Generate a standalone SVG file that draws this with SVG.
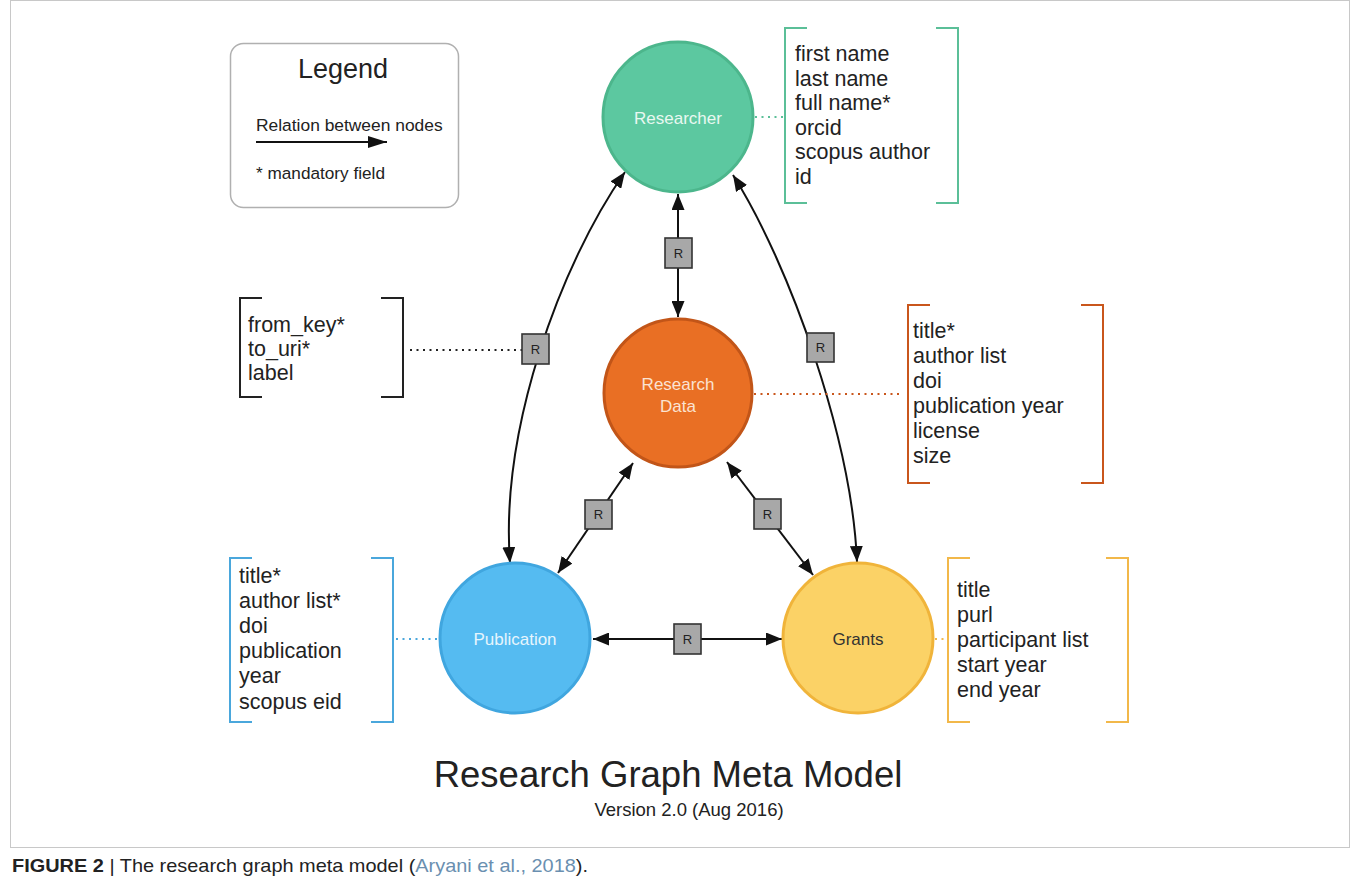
<svg xmlns="http://www.w3.org/2000/svg" width="1358" height="887" viewBox="0 0 1358 887">
<style>
.t{font-family:"Liberation Sans",Arial,sans-serif;fill:#222}
.fld{font-size:21.5px}
.nl{font-size:17px;text-anchor:middle}
.br{fill:none;stroke-width:2}
.dot{fill:none;stroke-width:2;stroke-dasharray:2 4.5}
.con{fill:none;stroke:#111;stroke-width:2}
.rb{fill:#a8a8a8;stroke:#333;stroke-width:1.6}
.rt{font-family:"Liberation Sans",Arial,sans-serif;font-size:13px;fill:#222;text-anchor:middle}
</style>
<defs>
<marker id="ah" markerUnits="userSpaceOnUse" markerWidth="16" markerHeight="13" refX="16" refY="6.5" orient="auto-start-reverse">
<path d="M0,0 L16,6.5 L0,13 z" fill="#111"/>
</marker>
<marker id="lah" markerUnits="userSpaceOnUse" markerWidth="19" markerHeight="12" refX="19" refY="6" orient="auto">
<path d="M0,0 L19,6 L0,12 z" fill="#111"/>
</marker>
</defs>
<rect x="10.5" y="0.5" width="1339" height="847" fill="#fff" stroke="#c8c8c8" stroke-width="1"/>

<g id="legend">
<rect x="230.5" y="43.5" width="228" height="164" rx="13" fill="#fff" stroke="#b0b0b0" stroke-width="1.5"/>
<text class="t" x="343" y="78" font-size="27" text-anchor="middle">Legend</text>
<text class="t" x="256" y="131" font-size="17.4">Relation between nodes</text>
<line x1="256" y1="142" x2="387" y2="142" stroke="#111" stroke-width="2" marker-end="url(#lah)"/>
<text class="t" x="256" y="179" font-size="17.2">* mandatory field</text>
</g>

<g id="connectors">
<line class="con" x1="678" y1="194" x2="678" y2="317" marker-start="url(#ah)" marker-end="url(#ah)"/>
<path class="con" d="M510,563 C500,430 560,265 625,172" marker-start="url(#ah)" marker-end="url(#ah)"/>
<path class="con" d="M857,562 C852,440 790,265 733,175" marker-start="url(#ah)" marker-end="url(#ah)"/>
<line class="con" x1="633" y1="463" x2="558" y2="573" marker-start="url(#ah)" marker-end="url(#ah)"/>
<line class="con" x1="727" y1="462" x2="813" y2="575" marker-start="url(#ah)" marker-end="url(#ah)"/>
<line class="con" x1="593" y1="639" x2="782" y2="639" marker-start="url(#ah)" marker-end="url(#ah)"/>
<line class="dot" x1="410" y1="350" x2="522" y2="350" stroke="#222"/>
<line class="dot" x1="755" y1="117" x2="785" y2="117" stroke="#5bbf98"/>
<line class="dot" x1="754" y1="394" x2="903" y2="394" stroke="#c9561c"/>
<line class="dot" x1="396" y1="639" x2="440" y2="639" stroke="#4aa7dc"/>
<line class="dot" x1="935" y1="639" x2="948" y2="639" stroke="#f2b84a"/>
</g>

<g id="rel-boxes">
<rect class="rb" x="665" y="238" width="27" height="30"/><text class="rt" x="678.5" y="258">R</text>
<rect class="rb" x="522" y="334" width="27" height="30"/><text class="rt" x="535.5" y="354">R</text>
<rect class="rb" x="807" y="333" width="27" height="29"/><text class="rt" x="820.5" y="352">R</text>
<rect class="rb" x="585" y="500" width="27" height="29"/><text class="rt" x="598.5" y="519">R</text>
<rect class="rb" x="754" y="499" width="27" height="30"/><text class="rt" x="767.5" y="519">R</text>
<rect class="rb" x="674" y="624" width="27" height="30"/><text class="rt" x="687.5" y="644">R</text>
</g>

<g id="researcher">
<circle cx="678" cy="117" r="75" fill="#5cc8a0" stroke="#4cb68c" stroke-width="3"/>
<text class="t nl" x="678" y="124" style="fill:#e9f8f1">Researcher</text>
</g>
<g id="research-data">
<circle cx="678" cy="393" r="74" fill="#e96f24" stroke="#c25518" stroke-width="3"/>
<text class="t nl" x="678" y="390" style="fill:#fbe3d2">Research</text>
<text class="t nl" x="678" y="412" style="fill:#fbe3d2">Data</text>
</g>
<g id="publication">
<circle cx="515" cy="638" r="75" fill="#55bbf1" stroke="#40a6df" stroke-width="3"/>
<text class="t nl" x="515" y="645" style="fill:#e6f5fd">Publication</text>
</g>
<g id="grants">
<circle cx="858" cy="638" r="75" fill="#fbd266" stroke="#f0b43a" stroke-width="3"/>
<text class="t nl" x="858" y="645" style="fill:#333">Grants</text>
</g>

<g id="researcher-fields">
<path class="br" stroke="#5bbf98" d="M807,28 H785 V203 H807 M936,28 H958 V203 H936"/>
<text class="t fld" x="795" y="61">first name</text>
<text class="t fld" x="795" y="85.5">last name</text>
<text class="t fld" x="795" y="110">full name*</text>
<text class="t fld" x="795" y="134.5">orcid</text>
<text class="t fld" x="795" y="159">scopus author</text>
<text class="t fld" x="795" y="183.5">id</text>
</g>

<g id="relation-fields">
<path class="br" stroke="#222" d="M262,298 H240 V397 H262 M381,298 H403 V397 H381"/>
<text class="t fld" x="248" y="332">from_key*</text>
<text class="t fld" x="248" y="356">to_uri*</text>
<text class="t fld" x="248" y="380">label</text>
</g>

<g id="research-data-fields">
<path class="br" stroke="#c9561c" d="M930,305 H908 V483 H930 M1081,305 H1103 V483 H1081"/>
<text class="t fld" x="913" y="338">title*</text>
<text class="t fld" x="913" y="363">author list</text>
<text class="t fld" x="913" y="388">doi</text>
<text class="t fld" x="913" y="413">publication year</text>
<text class="t fld" x="913" y="438">license</text>
<text class="t fld" x="913" y="463">size</text>
</g>

<g id="publication-fields">
<path class="br" stroke="#4aa7dc" d="M252,558 H230 V722 H252 M371,558 H393 V722 H371"/>
<text class="t fld" x="239" y="583">title*</text>
<text class="t fld" x="239" y="608">author list*</text>
<text class="t fld" x="239" y="633">doi</text>
<text class="t fld" x="239" y="658">publication</text>
<text class="t fld" x="239" y="683">year</text>
<text class="t fld" x="239" y="709">scopus eid</text>
</g>

<g id="grants-fields">
<path class="br" stroke="#f2b84a" d="M970,558 H948 V722 H970 M1106,558 H1128 V722 H1106"/>
<text class="t fld" x="957" y="597">title</text>
<text class="t fld" x="957" y="622">purl</text>
<text class="t fld" x="957" y="647">participant list</text>
<text class="t fld" x="957" y="672">start year</text>
<text class="t fld" x="957" y="697">end year</text>
</g>

<g id="title">
<text class="t" x="668" y="787" font-size="36.5" text-anchor="middle">Research Graph Meta Model</text>
<text class="t" x="689" y="816" font-size="18.5" text-anchor="middle">Version 2.0 (Aug 2016)</text>
</g>

<g id="caption">
<text class="t" x="12" y="872" font-size="19" textLength="576" lengthAdjust="spacingAndGlyphs"><tspan font-weight="bold">FIGURE 2</tspan> | The research graph meta model (<tspan fill="#6a8fb0">Aryani et al., 2018</tspan>).</text>
</g>
</svg>
